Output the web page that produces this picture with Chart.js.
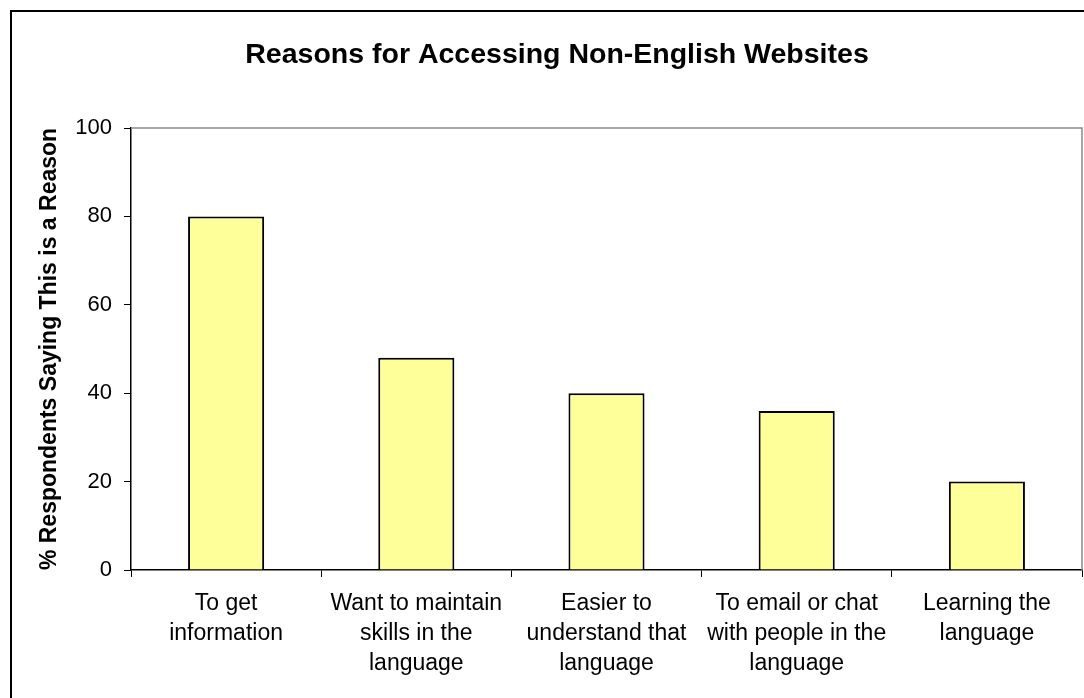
<!DOCTYPE html>
<html>
<head>
<meta charset="utf-8">
<script src="https://cdn.jsdelivr.net/npm/chart.js@4/dist/chart.umd.min.js"></script>
<style>
  html, body { margin: 0; padding: 0; background: #ffffff; }
  #wrap { position: relative; width: 1084px; height: 698px; }
  canvas { display: block; background: #ffffff; }
</style>
</head>
<body>
<div id="wrap"><canvas id="chart" width="1084" height="698"></canvas></div>
<script>
// Reasons and the share of respondents citing each one
const categories = [
  ['To get', 'information'],
  ['Want to maintain', 'skills in the', 'language'],
  ['Easier to', 'understand that', 'language'],
  ['To email or chat', 'with people in the', 'language'],
  ['Learning the', 'language']
];
const percentValues = [80, 48, 40, 36, 20];
const yTicks = [0, 20, 40, 60, 80, 100];

const chartTitle = 'Reasons for Accessing Non-English Websites';
const yAxisTitle = '% Respondents Saying This is a Reason';

const FONT = "'Liberation Sans', Arial, Helvetica, sans-serif";

// Outer chart frame plus the grey top/right edges of the plot area
const framePlugin = {
  id: 'frame',
  beforeDraw(chart) {
    const ctx = chart.ctx;
    ctx.save();
    ctx.strokeStyle = '#000000';
    ctx.lineWidth = 2;
    ctx.beginPath();
    ctx.moveTo(11, chart.height + 5);
    ctx.lineTo(11, 11);
    ctx.lineTo(chart.width + 5, 11);
    ctx.stroke();
    ctx.restore();
  },
  afterDraw(chart) {
    const a = chart.chartArea;
    const ctx = chart.ctx;
    ctx.save();
    ctx.strokeStyle = '#8a8a8a';
    ctx.lineWidth = 1.5;
    ctx.beginPath();
    ctx.moveTo(a.left, a.top);
    ctx.lineTo(a.right, a.top);
    ctx.lineTo(a.right, a.bottom);
    ctx.stroke();
    ctx.restore();
  }
};

new Chart(document.getElementById('chart'), {
  type: 'bar',
  data: {
    labels: categories,
    datasets: [{
      data: percentValues,
      backgroundColor: '#FFFF99',
      borderColor: '#000000',
      borderWidth: 2,
      barPercentage: 0.4,
      categoryPercentage: 1.0
    }]
  },
  options: {
    responsive: false,
    animation: false,
    layout: { padding: { left: 32, right: 2, top: 0, bottom: 0 } },
    plugins: {
      legend: { display: false },
      tooltip: { enabled: false },
      title: {
        display: true,
        text: chartTitle,
        color: '#000000',
        font: { family: FONT, size: 28.5, weight: 'bold', lineHeight: 1.2 },
        padding: { top: 38, bottom: 55.8 }
      }
    },
    scales: {
      x: {
        grid: {
          offset: true,
          drawOnChartArea: false,
          drawTicks: true,
          tickLength: 7,
          color: '#000000',
          lineWidth: 1
        },
        border: { display: true, color: '#000000', width: 1.5 },
        ticks: {
          color: '#000000',
          font: { family: FONT, size: 23, lineHeight: 30 / 23 },
          padding: 12,
          maxRotation: 0,
          autoSkip: false
        },
        afterFit(scale) { scale.height = 128; }
      },
      y: {
        min: 0,
        max: 100,
        afterBuildTicks(scale) { scale.ticks = yTicks.map(v => ({ value: v })); },
        grid: {
          drawOnChartArea: false,
          drawTicks: true,
          tickLength: 7,
          color: '#000000',
          lineWidth: 1
        },
        border: { display: true, color: '#000000', width: 1.5 },
        ticks: {
          color: '#000000',
          font: { family: FONT, size: 22 },
          padding: 12
        },
        title: {
          display: true,
          text: yAxisTitle,
          color: '#000000',
          font: { family: FONT, size: 23, weight: 'bold', lineHeight: 1.2 },
          padding: { top: 4, bottom: 4 }
        },
        afterFit(scale) { scale.width = 99; }
      }
    }
  },
  plugins: [framePlugin]
});
</script>
</body>
</html>
